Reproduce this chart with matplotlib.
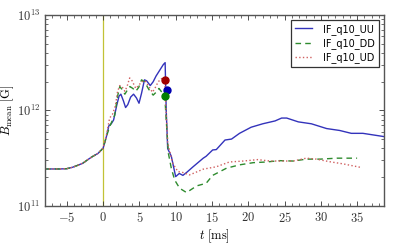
import numpy as np
import matplotlib
matplotlib.use("Agg")
import matplotlib.pyplot as plt
from matplotlib.ticker import FuncFormatter, MultipleLocator, LogLocator

plt.rcParams['mathtext.fontset'] = 'cm'

# pre-merger common part (log10 B)
t_pre = [-8, -6, -5, -4.2, -3.5, -2.8, -2.0, -1.4, -0.7, 0.0]
b_pre = [11.387, 11.387, 11.39, 11.405, 11.425, 11.447, 11.49, 11.52, 11.55, 11.604]

# UU
t_uu = [0.46, 0.8, 1.13, 1.45, 1.9, 2.2, 2.45, 2.8, 3.1, 3.4, 3.8, 4.2, 4.6, 4.95, 5.3, 5.7, 6.0, 6.5,
        6.9, 7.3, 7.8, 8.3, 8.55,
        8.7, 8.9, 9.4, 10.0, 10.5, 11.0, 11.5, 12.4, 13.8, 14.2, 15.1, 15.6, 16.8, 17.7, 18.8, 20.4, 22.0,
        23.7, 24.6, 25.3, 26.9, 28.7, 30.8, 32.6, 34.2, 35.8, 38.7]
b_uu = [11.726, 11.84, 11.86, 11.90, 12.06, 12.15, 12.17, 12.10, 12.03, 12.06, 12.14, 12.17, 12.13,
        12.075, 12.18, 12.32, 12.31, 12.26, 12.30, 12.36, 12.42, 12.48, 12.50,
        12.0, 11.60, 11.52, 11.307, 11.34, 11.32, 11.35, 11.41, 11.50, 11.52, 11.586, 11.59, 11.69, 11.70,
        11.76, 11.824, 11.86, 11.89, 11.92, 11.92, 11.88, 11.86, 11.81, 11.79, 11.76, 11.76, 11.726]

# DD
t_dd = [0.46, 0.9, 1.6, 2.0, 2.3, 2.6, 3.0, 3.4, 3.7, 4.1, 4.5, 4.9, 5.3, 5.7, 6.3, 6.9, 7.3, 7.7,
        8.1, 8.5,
        8.7, 9.0, 9.4, 9.86, 10.55, 11.5, 12.4, 12.9, 14.2, 15.1, 17.0, 18.8, 20.7, 22.5, 24.3,
        26.2, 28.0, 29.9, 32.2, 35.0]
b_dd = [11.726, 11.83, 11.95, 12.15, 12.25, 12.22, 12.17, 12.22, 12.25, 12.23, 12.20, 12.24, 12.32,
        12.30, 12.22, 12.16, 12.19, 12.23, 12.19, 12.155,
        11.90, 11.55, 11.395, 11.272, 11.185, 11.14, 11.185, 11.21, 11.237, 11.32, 11.395, 11.43, 11.453,
        11.46, 11.474, 11.47, 11.49, 11.49, 11.50, 11.50]

# UD
t_ud = [0.46, 0.9, 1.3, 1.7, 2.0, 2.3, 2.6, 3.0, 3.3, 3.66, 4.0, 4.5, 4.9, 5.3, 5.8, 6.3, 6.8, 7.2,
        7.6, 8.0, 8.3, 8.5,
        8.7, 8.9, 9.6, 10.3, 11.0, 11.9, 12.4, 13.8, 15.6, 17.4, 19.3, 21.3, 23.0, 24.8, 26.2,
        28.0, 29.4, 31.2, 33.1, 35.4]
b_ud = [11.74, 11.92, 11.96, 12.05, 12.20, 12.26, 12.25, 12.20, 12.25, 12.34, 12.31, 12.23, 12.26,
        12.30, 12.31, 12.25, 12.19, 12.24, 12.30, 12.33, 12.34, 12.32,
        11.95, 11.66, 11.447, 11.36, 11.35, 11.325, 11.34, 11.385, 11.41, 11.46, 11.47, 11.485, 11.47,
        11.47, 11.47, 11.50, 11.49, 11.463, 11.44, 11.405]

# collapse markers
t_dots = [8.48, 8.76, 8.48]
b_dots = [12.32, 12.215, 12.155]
dot_colors = ['#a00000', '#0000b0', '#008000']

labels = ['IF_q10_UU', 'IF_q10_DD', 'IF_q10_UD']

fig = plt.figure(figsize=(3.95, 2.44), dpi=100)
ax = fig.add_axes([0.114, 0.156, 0.858, 0.783])

def full(t, b):
    return np.array(t_pre + t), 10 ** np.array(b_pre + b)

x, y = full(t_uu, b_uu)
ax.plot(x, y, '-', color='#3333bb', lw=1.0, label=labels[0])
x, y = full(t_dd, b_dd)
ax.plot(x, y, '--', color='#2e8b2e', lw=1.0, dashes=(4, 3), label=labels[1])
x, y = full(t_ud, b_ud)
ax.plot(x, y, ':', color='#d06060', lw=1.0, label=labels[2])

ax.axvline(0, color='#c2c236', lw=0.9, zorder=1)

for tt, bb, cc in zip(t_dots, b_dots, dot_colors):
    ax.plot(tt, 10 ** bb, 'o', color=cc, ms=5, zorder=5)

ax.set_yscale('log')
ax.set_xlim(-8, 38.7)
ax.set_ylim(1e11, 1e13)

ax.xaxis.set_major_locator(MultipleLocator(5))
ax.xaxis.set_minor_locator(MultipleLocator(1))
ax.xaxis.set_major_formatter(FuncFormatter(lambda v, p: r'$%d$' % round(v)))
ax.yaxis.set_major_locator(LogLocator(base=10, numticks=5))
ax.yaxis.set_major_formatter(FuncFormatter(lambda v, p: r'$10^{%d}$' % round(np.log10(v))))

ax.tick_params(which='both', direction='in', top=True, right=True, labelsize=9, colors='#333333')
ax.tick_params(which='major', length=3.5, width=0.6)
ax.tick_params(which='minor', length=2, width=0.5)
for s in ax.spines.values():
    s.set_color('#555555')
    s.set_linewidth(1.0)

ax.set_xlabel(r'$t\ [\mathrm{ms}]$', fontsize=9, labelpad=2)
ax.set_ylabel(r'$B_{\mathrm{mean}}\ [\mathrm{G}]$', fontsize=9)
ax.yaxis.set_label_coords(-0.085, 0.5)

leg = ax.legend(loc='upper right', fontsize=7, fancybox=False, framealpha=1,
                handlelength=1.7, borderpad=0.4, labelspacing=0.35, handletextpad=1.2)
leg.get_frame().set_edgecolor('#333333')
leg.get_frame().set_linewidth(0.9)

fig.savefig('out.png', dpi=100)
